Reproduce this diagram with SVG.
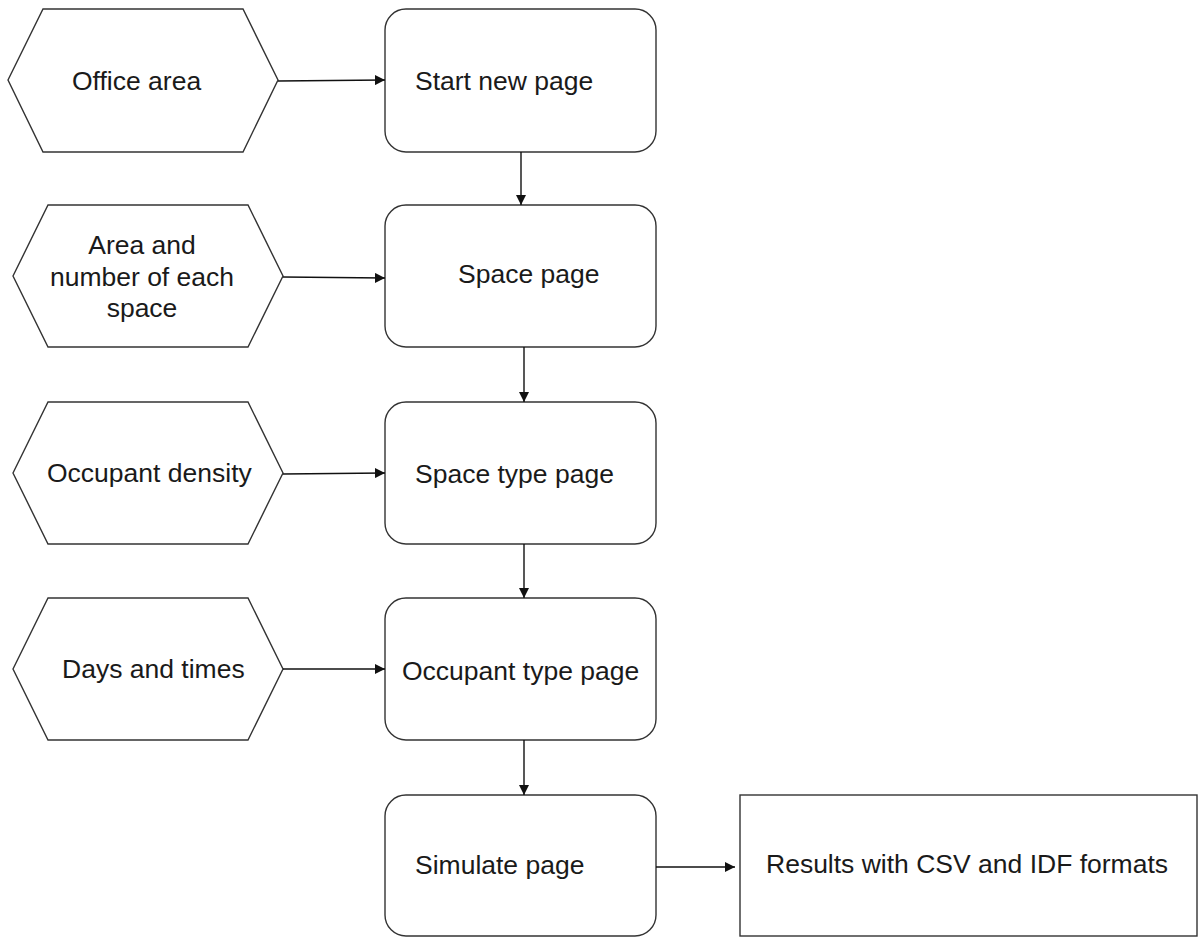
<svg xmlns="http://www.w3.org/2000/svg" width="1199" height="937" viewBox="0 0 1199 937">
  <style>
    .shape { fill: #ffffff; stroke: #333333; stroke-width: 1.4; }
    .label { font-family: "Liberation Sans", Arial, sans-serif; font-size: 26.5px; fill: #1a1a1a; }
    .link { fill: none; stroke: #111111; stroke-width: 1.4; }
  </style>
  <defs>
    <marker id="arrow" viewBox="0 0 10 10" refX="10" refY="5" markerWidth="10" markerHeight="10" markerUnits="userSpaceOnUse" orient="auto">
      <path d="M0,0 L10,5 L0,10 Z" fill="#111111"/>
    </marker>
  </defs>
  <rect width="1199" height="937" fill="#ffffff"/>

  <!-- Input hexagons -->
  <g id="office-area">
    <polygon class="shape" points="8,80 43,9 243,9 278,80 243,152 43,152"/>
    <text class="label" x="72" y="90">Office area</text>
  </g>
  <g id="area-number">
    <polygon class="shape" points="13,276 48,205 248,205 283,276 248,347 48,347"/>
    <text class="label" x="142" y="254" text-anchor="middle">Area and</text>
    <text class="label" x="142" y="286" text-anchor="middle">number of each</text>
    <text class="label" x="142" y="317" text-anchor="middle">space</text>
  </g>
  <g id="occupant-density">
    <polygon class="shape" points="13,473 48,402 248,402 283,473 248,544 48,544"/>
    <text class="label" x="47" y="482">Occupant density</text>
  </g>
  <g id="days-times">
    <polygon class="shape" points="13,669 48,598 248,598 283,669 248,740 48,740"/>
    <text class="label" x="62" y="678">Days and times</text>
  </g>

  <!-- Page steps -->
  <g id="start-new-page">
    <rect class="shape" x="385" y="9" width="271" height="143" rx="21"/>
    <text class="label" x="415" y="90">Start new page</text>
  </g>
  <g id="space-page">
    <rect class="shape" x="385" y="205" width="271" height="142" rx="21"/>
    <text class="label" x="458" y="283">Space page</text>
  </g>
  <g id="space-type-page">
    <rect class="shape" x="385" y="402" width="271" height="142" rx="21"/>
    <text class="label" x="415" y="483">Space type page</text>
  </g>
  <g id="occupant-type-page">
    <rect class="shape" x="385" y="598" width="271" height="142" rx="21"/>
    <text class="label" x="402" y="680">Occupant type page</text>
  </g>
  <g id="simulate-page">
    <rect class="shape" x="385" y="795" width="271" height="141" rx="21"/>
    <text class="label" x="415" y="874">Simulate page</text>
  </g>
  <g id="results">
    <rect class="shape" x="740" y="795" width="457" height="141"/>
    <text class="label" x="766" y="873">Results with CSV and IDF formats</text>
  </g>

  <!-- Connectors -->
  <g id="connectors">
    <path class="link" d="M278,81 L385,80" marker-end="url(#arrow)"/>
    <path class="link" d="M283,277 L385,278" marker-end="url(#arrow)"/>
    <path class="link" d="M283,474 L385,473" marker-end="url(#arrow)"/>
    <path class="link" d="M283,669 L385,669" marker-end="url(#arrow)"/>
    <path class="link" d="M521,152 L521,205" marker-end="url(#arrow)"/>
    <path class="link" d="M524,347 L524,402" marker-end="url(#arrow)"/>
    <path class="link" d="M524,544 L524,598" marker-end="url(#arrow)"/>
    <path class="link" d="M524,740 L524,795" marker-end="url(#arrow)"/>
    <path class="link" d="M656,867 L735,867" marker-end="url(#arrow)"/>
  </g>
</svg>
